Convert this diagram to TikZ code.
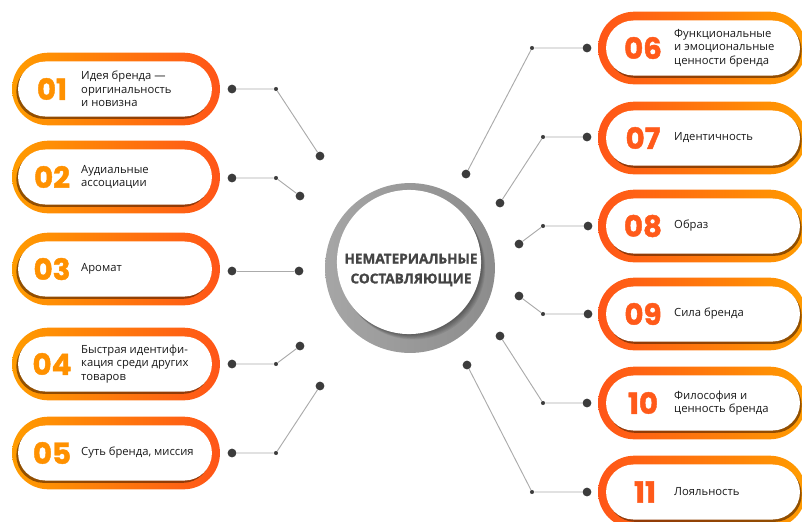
\documentclass[tikz,border=0pt]{standalone}
\usepackage{fontspec}
\setmainfont{Open Sans}
\newfontfamily\numfont{Poppins}[BoldFeatures = {FakeBold = 1.5}]
\newfontfamily\heavyfont{Open Sans}[BoldFeatures = {FakeBold = 1.2}]
\usetikzlibrary{shapes.misc,shadows}

\definecolor{ringlight}{HTML}{FF9C00}
\definecolor{ringdark}{HTML}{FF5518}
\definecolor{numleft}{HTML}{FF9100}
\definecolor{numright}{HTML}{FF5A1A}
\definecolor{shadebrown}{HTML}{4A2000}
\definecolor{dotgray}{HTML}{3C3C3C}
\definecolor{wiregray}{HTML}{ABABAB}
\definecolor{textgray}{HTML}{1A1A1A}
\definecolor{titlegray}{HTML}{444444}

\tikzset{
  pill/.style = {rounded rectangle, inner sep = 0pt,
    minimum width = 177.5pt, minimum height = 62pt},
  pillL/.style = {pill, left color = ringlight, right color = ringdark},
  pillR/.style = {pill, left color = ringdark, right color = ringlight},
  hole/.style = {rounded rectangle, inner sep = 0pt, fill = white,
    minimum width = 165.5pt, minimum height = 47pt},
  holeL/.style = {hole, drop shadow = {shadow xshift = -1.5pt,
    shadow yshift = -2pt, opacity = .6, fill = shadebrown}},
  holeR/.style = {hole, drop shadow = {shadow xshift = 1.5pt,
    shadow yshift = -2pt, opacity = .6, fill = shadebrown}},
  num/.style = {inner sep = 0pt, font = \numfont\bfseries\fontsize{25}{25}\selectfont},
  numL/.style = {num, text = numleft},
  numR/.style = {num, text = numright},
  label/.style = {anchor = west, inner sep = 0pt, align = left, text = textgray,
    font = \fontsize{9.6}{11.5}\selectfont},
  bigdot/.style = {circle, fill = dotgray, inner sep = 0pt, minimum size = 7.5pt},
  smalldot/.style = {circle, fill = dotgray, inner sep = 0pt, minimum size = 3.5pt},
  wire/.style = {draw = wiregray, line width = .8pt}
}

\begin{document}
\begin{tikzpicture}[x = .03cm, y = -.03cm]
  \useasboundingbox (0, 0) rectangle (802, 521);

  % centre
  \node (ring) at (410, 268) [circle, minimum size = 145pt, inner sep = 0pt,
    left color = black!35, right color = black!45] {};
  \foreach \k in {1,...,6}
    \fill [black, opacity = .07] (409 + \k*.7, 262 + \k*.9) circle (61.5pt);
  \node (core) at (409, 262) [circle, minimum size = 123pt, inner sep = 0pt, fill = white] {};
  \node (title) at (411, 270) [align = center, text = titlegray, inner sep = 0pt,
    font = \heavyfont\bfseries\fontsize{11.6}{17}\selectfont] {НЕМАТЕРИАЛЬНЫЕ\\СОСТАВЛЯЮЩИЕ};

  % left side
  \node (p1) at (116, 89)  [pillL] {};
  \node (p2) at (116, 177) [pillL] {};
  \node (p3) at (116, 269) [pillL] {};
  \node (p4) at (116, 364) [pillL] {};
  \node (p5) at (116, 453) [pillL] {};
  \node (h1) at (115, 89)  [holeL] {};
  \node (h2) at (115, 177) [holeL] {};
  \node (h3) at (115, 269) [holeL] {};
  \node (h4) at (115, 364) [holeL] {};
  \node (h5) at (115, 453) [holeL] {};
  \node (n1) at (52, 89)  [numL] {01};
  \node (n2) at (52, 177) [numL] {02};
  \node (n3) at (52, 269) [numL] {03};
  \node (n4) at (52, 364) [numL] {04};
  \node (n5) at (52, 453) [numL] {05};
  \node (t1) at (81, 89)  [label] {Идея бренда —\\оригинальность\\и новизна};
  \node (t2) at (81, 177) [label] {Аудиальные\\ассоциации};
  \node (t3) at (81, 269) [label] {Аромат};
  \node (t4) at (81, 364) [label] {Быстрая идентифи-\\кация среди других\\товаров};
  \node (t5) at (81, 453) [label] {Суть бренда, миссия};

  % right side
  \node (p6)  at (702, 48)  [pillR] {};
  \node (p7)  at (702, 138) [pillR] {};
  \node (p8)  at (702, 226) [pillR] {};
  \node (p9)  at (702, 314) [pillR] {};
  \node (p10) at (702, 403) [pillR] {};
  \node (p11) at (702, 492) [pillR] {};
  \node (h6)  at (703, 48)  [holeR] {};
  \node (h7)  at (703, 138) [holeR] {};
  \node (h8)  at (703, 226) [holeR] {};
  \node (h9)  at (703, 314) [holeR] {};
  \node (h10) at (703, 403) [holeR] {};
  \node (h11) at (703, 492) [holeR] {};
  \node (n6)  at (643, 48)  [numR] {06};
  \node (n7)  at (643, 138) [numR] {07};
  \node (n8)  at (643, 226) [numR] {08};
  \node (n9)  at (643, 314) [numR] {09};
  \node (n10) at (643, 403) [numR] {10};
  \node (n11) at (645, 492) [numR] {11};
  \node (t6)  at (674, 48)  [label] {Функциональные\\и эмоциональные\\ценности бренда};
  \node (t7)  at (674, 138) [label] {Идентичность};
  \node (t8)  at (674, 226) [label] {Образ};
  \node (t9)  at (674, 314) [label] {Сила бренда};
  \node (t10) at (674, 403) [label] {Философия и\\ценность бренда};
  \node (t11) at (674, 492) [label] {Лояльность};

  % dots
  \node (a1) at (232, 89)  [bigdot] {};
  \node (b1) at (276, 89)  [smalldot] {};
  \node (c1) at (320, 156) [bigdot] {};
  \node (a2) at (232, 178) [bigdot] {};
  \node (b2) at (276, 178) [smalldot] {};
  \node (c2) at (300, 196) [bigdot] {};
  \node (a3) at (232, 271) [bigdot] {};
  \node (c3) at (299, 271) [bigdot] {};
  \node (a4) at (232, 364) [bigdot] {};
  \node (b4) at (276, 364) [smalldot] {};
  \node (c4) at (300, 346) [bigdot] {};
  \node (a5) at (232, 453) [bigdot] {};
  \node (b5) at (276, 453) [smalldot] {};
  \node (c5) at (320, 386) [bigdot] {};
  \node (a6)  at (587, 48)  [bigdot] {};
  \node (b6)  at (532, 48)  [smalldot] {};
  \node (c6)  at (466, 174) [bigdot] {};
  \node (a7)  at (587, 137) [bigdot] {};
  \node (b7)  at (543, 137) [smalldot] {};
  \node (c7)  at (500, 203) [bigdot] {};
  \node (a8)  at (588, 226) [bigdot] {};
  \node (b8)  at (543, 226) [smalldot] {};
  \node (c8)  at (519, 244) [bigdot] {};
  \node (a9)  at (588, 314) [bigdot] {};
  \node (b9)  at (543, 314) [smalldot] {};
  \node (c9)  at (519, 296) [bigdot] {};
  \node (a10) at (587, 403) [bigdot] {};
  \node (b10) at (543, 403) [smalldot] {};
  \node (c10) at (500, 336) [bigdot] {};
  \node (a11) at (587, 492) [bigdot] {};
  \node (b11) at (532, 492) [smalldot] {};
  \node (c11) at (467, 365) [bigdot] {};

  % wires
  \foreach \i in {1,2,4,5,6,7,8,9,10,11}
    \draw [wire] (a\i) -- (b\i) -- (c\i);
  \draw [wire] (a3) -- (c3);
\end{tikzpicture}
\end{document}
